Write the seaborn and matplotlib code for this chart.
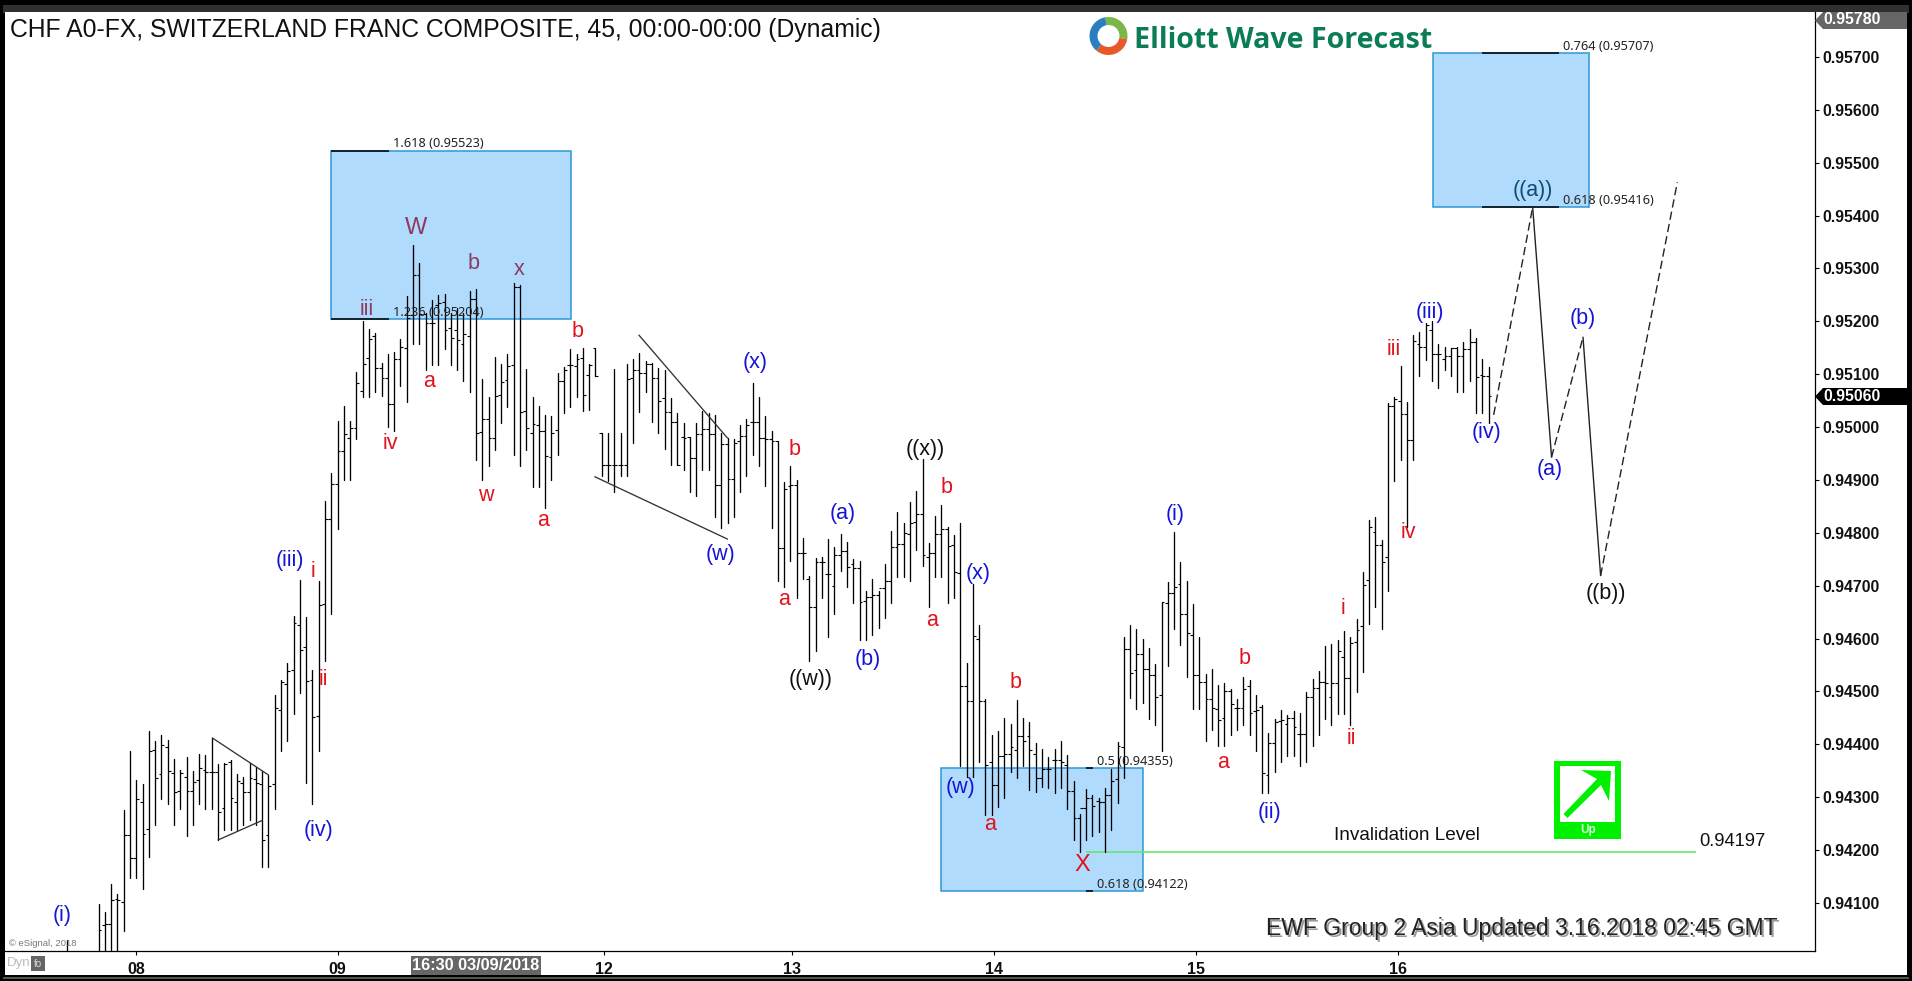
import numpy as np
import pandas as pd
import matplotlib
matplotlib.use("Agg")
import matplotlib.pyplot as plt
from matplotlib.patches import Rectangle, Polygon, Wedge
import seaborn as sns

# ---------- data (prices in 1e-5 units) ----------
bar_index = [-11] + list(range(-6, 216))
highs = [94030,
 94098,94082,94135,94117,94275,94387,
 94332,94325,94425,94406,94417,94408,94372,94351,94376,94349,
 94381,94379,94412,94362,94364,94370,94344,94338,94364,94357,
 94349,94342,94493,94521,94554,94643,94711,94641,94540,94709,
 94860,94913,95011,95040,95011,95104,95201,95185,95178,95121,
 95138,95142,95166,95248,95344,95310,95215,95240,95250,95252,
 95215,95226,95215,95257,95261,95091,95057,95133,95119,95138,
 95272,95269,95110,95057,95040,95023,95021,95102,95114,95148,
 95138,95150,95119,95149,
 94988,94988,95110,94988,95120,95129,
 95140,95124,95121,95111,95107,95055,95026,95007,94981,95007,
 95031,95026,95023,94988,94979,94977,95004,95015,95084,95057,
 95021,94993,94973,94896,94927,94900,94790,94718,94752,94755,
 94788,94774,94797,94782,94751,94747,94690,94713,94690,94741,
 94804,94840,94819,94859,94879,94940,94781,94832,94853,94811,
 94796,94819,94554,94703,94626,94485,94418,94425,94450,94438,
 94484,94450,94442,94402,94391,94376,94391,94406,94380,94330,
 94269,94315,94304,94298,94317,94354,94405,94603,94626,94618,
 94599,94582,94552,94669,94707,94802,94745,94709,94665,94603,
 94533,94542,94512,94516,94504,94486,94527,94522,94493,94474,
 94421,94448,94465,94455,94463,94459,94499,94523,94539,94586,
 94590,94597,94614,94603,94637,94725,94824,94830,94786,95045,
 95056,95115,95047,95174,95180,95196,95201,95158,95152,95150,
 95152,95161,95186,95168,95129,95114]
lows = [93950,
 93960,93980,93970,93990,94047,94147,
 94147,94127,94187,94248,94297,94287,94248,94278,94227,94248,
 94287,94278,94278,94219,94238,94238,94238,94248,94257,94248,
 94168,94168,94278,94388,94407,94458,94497,94327,94287,94388,
 94558,94647,94807,94899,94899,94978,95057,95057,95066,95059,
 95000,94992,95078,95047,95157,95157,95108,95117,95117,95148,
 95117,95108,95087,95066,94938,94899,94927,94957,95008,95038,
 94947,94927,94957,94887,94887,94847,94899,94947,95027,95038,
 95057,95031,95032,95097,
 94908,94898,94877,94908,94908,94970,
 95028,95067,95009,94988,94958,94928,94928,94918,94878,94869,
 94918,94918,94829,94809,94818,94829,94878,94908,94947,94927,
 94888,94809,94708,94698,94747,94677,94713,94558,94577,94677,
 94602,94647,94728,94698,94668,94598,94598,94607,94619,94638,
 94668,94717,94717,94708,94768,94738,94659,94717,94717,94668,
 94677,94359,94339,94339,94367,94267,94267,94282,94298,94348,
 94337,94358,94314,94310,94320,94318,94308,94318,94278,94218,
 94197,94218,94227,94235,94197,94238,94288,94337,94487,94467,
 94479,94448,94436,94388,94548,94618,94588,94528,94467,94467,
 94406,94427,94397,94397,94417,94427,94436,94417,94387,94308,
 94308,94348,94366,94378,94378,94358,94366,94397,94417,94448,
 94436,94457,94457,94436,94498,94537,94628,94659,94618,94689,
 94898,94938,94811,94938,95097,95127,95088,95074,95108,95097,
 95067,95067,95088,95027,95027,95008]
opens = [93980,
 93990,94059,94060,94107,94101,94228,
 94184,94290,94239,94389,94343,94394,94345,94311,94339,94311,
 94333,94351,94347,94347,94280,94366,94291,94326,94309,94335,
 94324,94229,94324,94465,94514,94540,94625,94584,94521,94453,
 94666,94827,94892,94954,94979,94999,95068,95130,95172,95111,
 95092,95043,95128,95149,95212,95287,95213,95196,95231,95237,
 95187,95184,95157,95172,95243,94990,95015,94980,95061,95089,
 95117,95265,95030,94988,95004,94992,94943,94994,95087,95117,
 95115,95130,95098,95149,
 94988,94928,94928,94928,94928,95092,
 95107,95102,95120,95092,95055,95029,95009,94981,94981,94941,
 94987,94996,94987,94890,94968,94902,94973,94984,95009,95009,
 94979,94977,94973,94772,94888,94890,94761,94713,94659,94744,
 94722,94700,94758,94765,94741,94733,94671,94679,94682,94695,
 94709,94773,94778,94797,94821,94836,94755,94761,94798,94807,
 94777,94723,94510,94481,94599,94481,94367,94323,94378,94381,
 94390,94415,94415,94382,94337,94353,94371,94370,94361,94312,
 94260,94279,94298,94293,94291,94304,94334,94395,94580,94541,
 94571,94542,94531,94493,94668,94686,94704,94646,94607,94531,
 94518,94485,94466,94449,94501,94468,94468,94510,94462,94471,
 94342,94403,94444,94438,94449,94419,94419,94489,94506,94518,
 94490,94515,94566,94525,94594,94624,94711,94802,94776,94755,
 95040,95049,95025,94975,95158,95152,95184,95139,95128,95134,
 95150,95134,95147,95160,95098,95097]
closes = [93990,
 94048,94060,94105,94105,94228,94184,
 94296,94231,94387,94337,94398,94349,94309,94345,94311,94328,
 94355,94347,94347,94272,94362,94298,94330,94309,94337,94326,
 94218,94322,94468,94517,94538,94629,94579,94519,94451,94663,
 94827,94892,94954,94987,94999,95083,95119,95166,95111,95092,
 95043,95128,95151,95206,95288,95213,95196,95196,95235,95184,
 95168,95165,95176,95243,94988,95016,94979,95058,95085,95115,
 95265,95028,94998,95006,94992,94945,94989,95087,95108,95117,
 95129,95060,95117,95097,
 94928,94928,94928,94928,95091,95108,
 95102,95120,95092,95050,95028,95009,94928,94979,94941,94987,
 94996,94987,94890,94968,94902,94969,94984,95004,95009,94979,
 94977,94973,94772,94882,94890,94761,94761,94659,94744,94744,
 94722,94758,94765,94735,94733,94669,94678,94682,94695,94709,
 94773,94778,94799,94819,94836,94758,94761,94798,94807,94775,
 94725,94510,94481,94605,94481,94360,94323,94378,94381,94395,
 94415,94407,94389,94337,94353,94353,94371,94367,94312,94260,
 94279,94298,94283,94291,94304,94330,94397,94580,94535,94571,
 94542,94531,94489,94669,94686,94698,94646,94611,94531,94517,
 94485,94468,94446,94501,94476,94468,94504,94460,94465,94346,
 94402,94443,94445,94449,94433,94419,94489,94506,94517,94515,
 94515,94576,94525,94591,94616,94701,94810,94776,94745,95040,
 95053,95025,94975,95162,95152,95193,95139,95138,95134,95150,
 95134,95147,95160,95094,95097,95058]

ytick_values = [0.941,0.942,0.943,0.944,0.945,0.946,0.947,0.948,0.949,
                0.950,0.951,0.952,0.953,0.954,0.955,0.956,0.957]
day_labels = ["08","09","12","13","14","15","16"]
day_bars = [0, 32, 74.3, 104.3, 136.3, 168.5, 200.6]

forecast_solid = [([222, 225], [0.95416, 0.94943]), ([230, 232.8], [0.95170, 0.94719])]
forecast_dash = [([215.8, 222], [0.95023, 0.95416]), ([225, 230], [0.94943, 0.95170]),
                 ([232.8, 245], [0.94719, 0.95463])]
trend_lines = [([12.08, 21], [0.94412, 0.94342]), ([13, 20.03], [0.94219, 0.94256]),
               ([79.9, 94], [0.95174, 0.94979]), ([72.9, 94], [0.94906, 0.94788])]
box_spans = [(31, 69.1, 0.95204, 0.95523), (127.9, 160, 0.94122, 0.94355), (206.1, 231, 0.95416, 0.95707)]
fib_spans = [(31, 40.1, "1.618 (0.95523)", 0.95523), (31, 40.1, "1.236 (0.95204)", 0.95204),
             (151, 152.1, "0.5 (0.94355)", 0.94355), (151, 152.1, "0.618 (0.94122)", 0.94122),
             (214, 226.2, "0.764 (0.95707)", 0.95707), (214, 226.2, "0.618 (0.95416)", 0.95416)]
invalidation = 0.94197

BLUE, RED, BLK, TINT = "#1414d8", "#e0141e", "#111111", "#8e3a5e"
wave_labels = [
 ("(i)",51,751,BLUE),("(iii)",238,460,BLUE),("(iv)",261,681,BLUE),("(w)",591,455,BLUE),("(x)",619,297,BLUE),
 ("(a)",691,421,BLUE),("(b)",712,541,BLUE),("(w)",788,646,BLUE),("(x)",802,470,BLUE),("(i)",964,422,BLUE),
 ("(ii)",1041,666,BLUE),("(iii)",1173,256,BLUE),("(iv)",1219,355,BLUE),("(a)",1271,385,BLUE),("(b)",1298,261,BLUE),
 ("((w))",665,557,BLK),("((x))",759,369,BLK),("((b))",1317,487,BLK),("((a))",1257,156,"#0f4a75"),
 ("i",257,469,RED),("ii",265,557,RED),("iii",301,254,TINT),("a",352,313,RED),("iv",320,364,RED),
 ("b",388,216,TINT),("x",426,221,TINT),("b",474,272,RED),("w",398,406,RED),("a",445,427,RED),
 ("b",652,369,RED),("a",643,492,RED),("b",776,400,RED),("a",764,509,RED),("a",812,676,RED),("b",833,560,RED),
 ("a",1003,625,RED),("b",1021,540,RED),("i",1101,499,RED),("ii",1108,606,RED),("iii",1143,287,RED),("iv",1155,437,RED),
]

# ---------- figure ----------
sns.set_theme(style="white")
plt.rcParams["font.family"] = ["Liberation Sans", "DejaVu Sans"]
W, H = 1912, 981
fig = plt.figure(figsize=(W/100, H/100), dpi=100, facecolor="black")

base = fig.add_axes([0, 0, 1, 1], zorder=0)
base.set_xlim(0, W); base.set_ylim(H, 0); base.axis("off")
base.add_patch(Rectangle((3, 5), 1906, 8, color="#303030", lw=0))
base.add_patch(Rectangle((5, 12), 1902, 963, color="white", lw=0))
base.add_patch(Rectangle((3, 977), 1906, 2, color="#555555", lw=0))

L, R, T, B = 5, 1815, 12, 951
ax = fig.add_axes([L/W, 1-B/H, (R-L)/W, (B-T)/H], zorder=1, facecolor="white")

idx = np.array(bar_index, dtype=float)
hi, lo = np.array(highs)/1e5, np.array(lows)/1e5
op, cl = np.array(opens)/1e5, np.array(closes)/1e5
bars = pd.DataFrame({"bar": np.r_[idx, idx], "price": np.r_[hi, lo]})

for x0, x1, y0, y1 in box_spans:
    ax.add_patch(Rectangle((x0, y0), x1-x0, y1-y0, facecolor="#b0dbfd", edgecolor="#2f97d6", lw=1.1, zorder=1))

sns.lineplot(data=bars, x="bar", y="price", units="bar", estimator=None, color="black",
             lw=0.95, ax=ax, legend=False, zorder=3, sort=False)
ax.hlines(op, idx-0.45, idx, color="black", lw=0.8, zorder=3)
ax.hlines(cl, idx, idx+0.45, color="black", lw=0.8, zorder=3)

for xs, ys in trend_lines:
    sns.lineplot(x=xs, y=ys, color="#333333", lw=0.95, ax=ax, zorder=3, sort=False, estimator=None)
for xs, ys in forecast_solid:
    sns.lineplot(x=xs, y=ys, color="#222222", lw=1.0, ax=ax, zorder=3, sort=False, estimator=None)
for xs, ys in forecast_dash:
    sns.lineplot(x=xs, y=ys, color="#222222", lw=1.0, ax=ax, zorder=3, sort=False, estimator=None,
                 linestyle=(0, (6, 3)))

for x0, x1, txt, y in fib_spans:
    ax.hlines(y, x0, x1, color="black", lw=1.1, zorder=2)
    ax.annotate(txt, (x1 + 0.65, y), xytext=(0, 5), textcoords="offset points", fontsize=9.2,
                family=["Noto Sans"], color="#222222", va="center", ha="left", zorder=4)

ax.hlines(invalidation, 151, 248, color="#66e66e", lw=1.2, zorder=2)

ax.set_xlim((L-136.3)/6.29, (R-136.3)/6.29)
ax.set_ylim(0.94009, 0.95785)
ax.set_xlabel(""); ax.set_ylabel("")
ax.yaxis.tick_right()
ax.set_yticks(ytick_values)
ax.set_yticklabels([f"{v:.5f}" for v in ytick_values], fontsize=11.4, fontweight="bold", color="#111111")
ax.set_xticks(day_bars)
ax.set_xticklabels(day_labels, fontsize=11.5, fontweight="bold", color="#111111")
ax.tick_params(axis="y", length=3, width=0.8, pad=2, color="black", right=True, left=False)
ax.tick_params(axis="x", length=3, width=0.8, pad=5, color="black", bottom=True)
for s in ["top", "left"]:
    ax.spines[s].set_visible(False)
for s in ["right", "bottom"]:
    ax.spines[s].set_visible(True); ax.spines[s].set_color("black"); ax.spines[s].set_linewidth(0.9)

# ---------- overlay in pixel space for labels / decoration ----------
ov = fig.add_axes([0, 0, 1, 1], zorder=2, facecolor="none")
ov.set_xlim(0, W); ov.set_ylim(H, 0); ov.axis("off")
S = 1912/1568

for txt, sx, sy, c in wave_labels:
    ov.text(sx*S, sy*S, txt, color=c, fontsize=15.5, ha="center", va="center")
ov.text(341*S, 187*S, "W", color=TINT, fontsize=17, ha="center", va="center")
ov.text(888*S, 709*S, "X", color=RED, fontsize=17, ha="center", va="center")

ov.text(10, 30, "CHF A0-FX, SWITZERLAND FRANC COMPOSITE, 45, 00:00-00:00 (Dynamic)",
        fontsize=17.8, color="#111111", ha="left", va="center")
ov.text(1134, 40, "Elliott Wave Forecast", fontsize=20.6, fontweight="bold", color="#0a7d55",
        ha="left", va="center", family=["Open Sans"])
for t0, t1, c in [(-100, 10, "#7ab648"), (10, 130, "#e8592a"), (130, 260, "#2a7fc0")]:
    ov.add_patch(Wedge((1108.5, 36), 19, t0, t1, width=8, color=c, lw=0))

ov.text(1334, 835, "Invalidation Level", fontsize=13.7, color="#111111", ha="left", va="center")
ov.text(1699, 842, "0.94197", fontsize=13.2, color="#111111", ha="left", va="center")

upd = "EWF Group 2 Asia Updated 3.16.2018 02:45 GMT"
ov.text(1268, 930, upd, fontsize=16.5, color="#999999", ha="left", va="center")
ov.text(1266, 928, upd, fontsize=16.5, color="#222222", ha="left", va="center")

ov.text(9, 943, "\u00a9 eSignal, 2018", fontsize=6.8, color="#777777", ha="left", va="center")
ov.text(7, 963, "Dyn", fontsize=9.5, color="#bbbbbb", ha="left", va="center")
ov.add_patch(Rectangle((31, 956), 14, 15, color="#666666", lw=0))
ov.text(38, 964, "fo", fontsize=7, color="#dddddd", ha="center", va="center")

ov.add_patch(Rectangle((411, 956), 130.5, 19, color="#666666", lw=0))
ov.text(476, 966, "16:30 03/09/2018", fontsize=11.7, fontweight="bold", color="white", ha="center", va="center")

ov.add_patch(Polygon([(1815, 20.5), (1823, 12), (1907, 12), (1907, 29), (1823, 29)], color="#666666", lw=0))
ov.text(1823, 20, "0.95780", fontsize=11.4, fontweight="bold", color="white", ha="left", va="center")
ov.add_patch(Polygon([(1815, 396.5), (1823, 388), (1907, 388), (1907, 405), (1823, 405)], color="black", lw=0))
ov.text(1823, 396.5, "0.95060", fontsize=11.4, fontweight="bold", color="white", ha="left", va="center")

ov.add_patch(Rectangle((1554.3, 760.7), 66.7, 78, color="#00f000", lw=0))
ov.add_patch(Rectangle((1560, 766), 55, 55.7, color="white", lw=0))
ov.add_patch(Polygon([(1563.5, 814), (1567.5, 818), (1601, 785), (1609, 801), (1611, 771), (1581, 770), (1597, 779)],
                     color="#00f000", lw=0))
ov.text(1587.7, 830.5, "Up", fontsize=8.5, fontweight="bold", color="#d8ffd8", ha="center", va="center")

fig.savefig("out.png", dpi=100, facecolor="black")
